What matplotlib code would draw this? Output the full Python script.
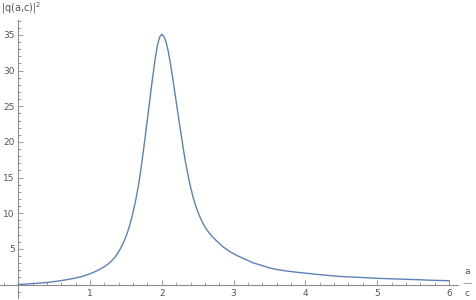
import numpy as np
import matplotlib
matplotlib.use("Agg")
import matplotlib.pyplot as plt
from matplotlib.ticker import MultipleLocator
from matplotlib.lines import Line2D

# values
ratio = [0.0, 0.1, 0.23, 0.3, 0.42, 0.53, 0.65, 0.77, 0.88, 1.0, 1.07, 1.14,
         1.2, 1.25, 1.3, 1.35, 1.39, 1.42, 1.46, 1.49, 1.52, 1.55, 1.58, 1.61,
         1.64, 1.67, 1.7, 1.73, 1.76, 1.79, 1.82, 1.85, 1.88, 1.91, 1.94, 1.97,
         2.0, 2.03, 2.06, 2.09, 2.12, 2.15, 2.18, 2.21, 2.24, 2.27, 2.3, 2.33,
         2.36, 2.4, 2.44, 2.48, 2.52, 2.56, 2.6, 2.64, 2.7, 2.77, 2.85, 2.95,
         3.05, 3.15, 3.27, 3.4, 3.51, 3.62, 3.74, 3.88, 4.02, 4.15, 4.3, 4.48,
         4.75, 5.0, 5.25, 5.5, 5.75, 6.0]
q_sq = [0.0, 0.05, 0.15, 0.2, 0.3, 0.45, 0.63, 0.85, 1.1, 1.5, 1.8, 2.15,
        2.5, 2.85, 3.3, 3.85, 4.45, 4.95, 5.75, 6.45, 7.25, 8.2, 9.3, 10.6,
        12.0, 13.6, 15.5, 17.7, 20.0, 22.4, 24.8, 27.3, 29.6, 31.8, 33.6, 34.7,
        35.1, 34.8, 34.0, 32.7, 31.0, 29.1, 27.05, 25.0, 22.96, 21.0, 19.0, 17.2,
        15.6, 13.7, 12.1, 10.8, 9.75, 8.85, 8.1, 7.5, 6.75, 6.05, 5.3, 4.6,
        4.05, 3.6, 3.05, 2.65, 2.3, 2.07, 1.89, 1.72, 1.57, 1.43, 1.29, 1.13,
        1.0, 0.87, 0.78, 0.7, 0.6, 0.53]

x_ticks = [1, 2, 3, 4, 5, 6]
y_ticks = [5, 10, 15, 20, 25, 30, 35]

W, H = 476, 300
fig = plt.figure(figsize=(W / 100, H / 100), dpi=100)
ax = fig.add_axes([0, (H - 297.7) / H, 458 / W, (297.7 - 20) / H])

ax.plot(ratio, q_sq, color="#5E81B5", lw=1.0, solid_joinstyle="round")

ax.set_xlim(-0.253, 6.125)
ax.set_ylim(-1.85, 37.1)

axis_col = "#8c8c8c"
text_col = "#555555"
for side in ["top", "right"]:
    ax.spines[side].set_visible(False)
ax.spines["left"].set_position(("data", 0))
ax.spines["bottom"].set_position(("data", 0))
for side in ["left", "bottom"]:
    ax.spines[side].set_color(axis_col)
    ax.spines[side].set_linewidth(0.8)

ax.set_xticks(x_ticks)
ax.set_yticks(y_ticks)
ax.xaxis.set_minor_locator(MultipleLocator(0.2))
ax.yaxis.set_minor_locator(MultipleLocator(1))
ax.tick_params(which="both", direction="in", color=axis_col, width=0.6,
               labelsize=6.5, labelcolor=text_col)
ax.tick_params(which="major", length=3.5)
ax.tick_params(which="minor", length=2)
ax.tick_params(axis="x", pad=3)
ax.tick_params(axis="y", pad=2.5)
ax.patch.set_alpha(0)

# axis labels, drawn like the reference: |q(a,c)|^2 at top, a/c at the right
fig.text(1 / W, 1 - 8 / H, "|q(a,c)|$^{2}$", fontsize=7, color=text_col,
         ha="left", va="center")
fig.text(467 / W, 1 - 272 / H, "a", fontsize=6.5, color=text_col,
         ha="center", va="center")
fig.text(467 / W, 1 - 294 / H, "c", fontsize=6.5, color=text_col,
         ha="center", va="center")
fig.add_artist(Line2D([463.5 / W, 470.5 / W], [1 - 283 / H, 1 - 283 / H],
                      color="#aaaaaa", lw=0.8))

fig.savefig("out.png", dpi=100)
